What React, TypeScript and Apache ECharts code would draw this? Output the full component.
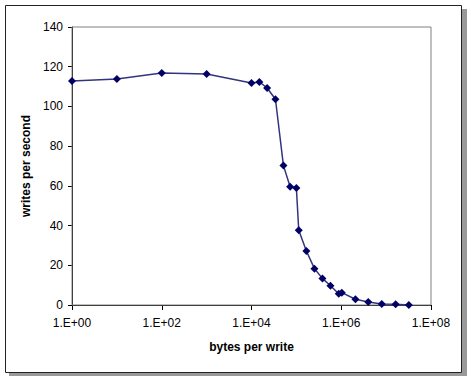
import React, { useEffect, useRef } from "react";
import * as echarts from "echarts";

const bytesPerWrite = [
  1, 10, 100, 1000, 10000, 15000, 22300, 34200, 51500, 72600, 100000, 113000,
  167000, 253000, 381000, 574000, 880000, 1030000, 2070000, 4000000, 8000000,
  16300000, 32000000,
];
const writesPerSecond = [
  112.8, 113.8, 116.8, 116.3, 111.8, 112.3, 109.3, 103.6, 70.2, 59.6, 58.9,
  37.6, 27.2, 18.3, 13.4, 9.7, 5.7, 6.2, 2.9, 1.5, 0.5, 0.4, 0,
];
const yTicks = [0, 20, 40, 60, 80, 100, 120, 140];

const FONT = "'Liberation Sans', Arial, sans-serif";

export default function App() {
  const ref = useRef<HTMLDivElement>(null);
  useEffect(() => {
    if (!ref.current) return;
    const chart = echarts.init(ref.current, undefined, { renderer: "svg" });
    const data = bytesPerWrite.map((x, i) => [x, writesPerSecond[i]]);
    chart.setOption({
      animation: false,
      backgroundColor: "#ffffff",
      graphic: [
        {
          type: "rect",
          shape: { x: 9, y: 9, width: 458, height: 367 },
          style: { fill: "#9a9a9a", stroke: "none" },
          z: 0,
        },
        {
          type: "rect",
          shape: { x: 5.5, y: 5.5, width: 456, height: 367 },
          style: { fill: "#ffffff", stroke: "#222222", lineWidth: 1 },
          z: 0,
        },
      ],
      grid: {
        left: 72,
        right: 40,
        top: 27,
        bottom: 74,
        show: true,
        borderColor: "#808080",
        borderWidth: 1,
        backgroundColor: "transparent",
        z: 2,
      },
      xAxis: {
        type: "log",
        logBase: 100,
        min: 1,
        max: 1e8,
        name: "bytes per write",
        nameLocation: "middle",
        nameGap: 36,
        nameTextStyle: {
          fontFamily: FONT,
          fontWeight: "bold",
          fontSize: 12,
          color: "#000",
        },
        axisLine: { lineStyle: { color: "#000", width: 1 } },
        axisTick: { show: true, inside: false, length: 5, lineStyle: { color: "#000" } },
        minorTick: { show: false },
        splitLine: { show: false },
        axisLabel: {
          fontFamily: FONT,
          fontSize: 12,
          color: "#000",
          margin: 12,
          formatter: (v: number) =>
            "1.E+" + String(Math.round(Math.log10(v))).padStart(2, "0"),
        },
      },
      yAxis: {
        type: "value",
        min: yTicks[0],
        max: yTicks[yTicks.length - 1],
        interval: 20,
        name: "writes per second",
        nameLocation: "middle",
        nameGap: 40,
        nameTextStyle: {
          fontFamily: FONT,
          fontWeight: "bold",
          fontSize: 12,
          color: "#000",
        },
        axisLine: { show: true, lineStyle: { color: "#000", width: 1 } },
        axisTick: { show: true, inside: false, length: 4, lineStyle: { color: "#000" } },
        splitLine: { show: false },
        axisLabel: {
          fontFamily: FONT,
          fontSize: 12,
          color: "#000",
          margin: 9,
        },
      },
      series: [
        {
          type: "line",
          data,
          symbol: "diamond",
          symbolSize: 8,
          lineStyle: { color: "#34347e", width: 1.5 },
          itemStyle: { color: "#000066", borderWidth: 0 },
          z: 5,
        },
      ],
    });
    return () => chart.dispose();
  }, []);
  return (
    <div
      ref={ref}
      style={{ position: "fixed", left: 0, top: 0, width: 471, height: 379 }}
    />
  );
}
